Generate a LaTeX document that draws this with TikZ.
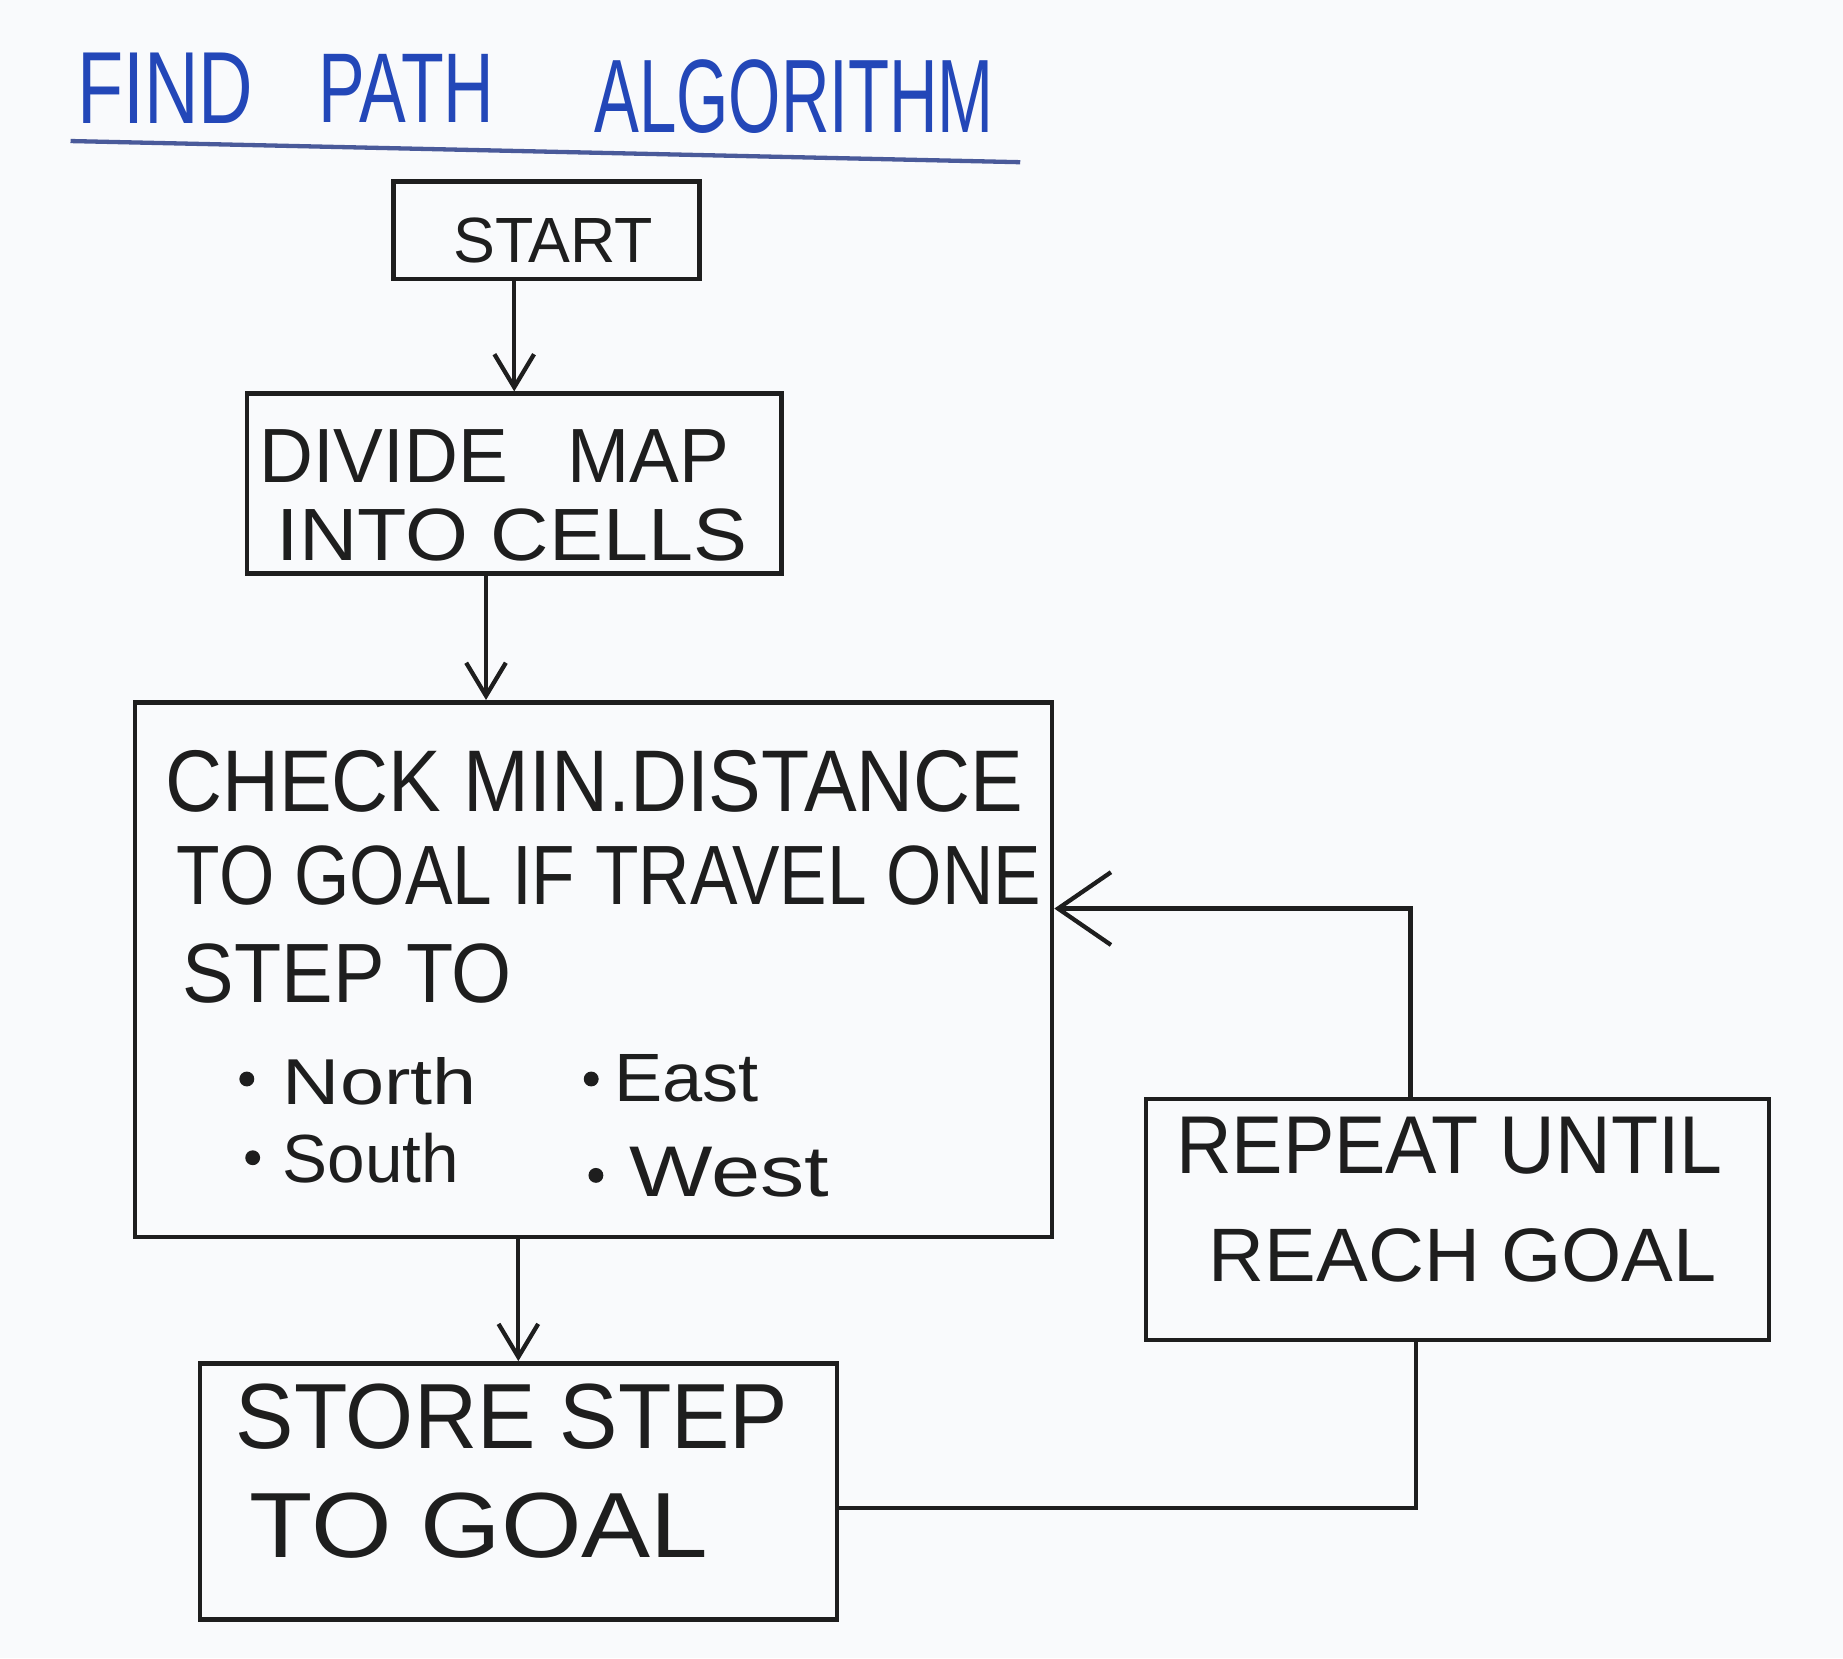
\documentclass[tikz,border=0pt]{standalone}
\usepackage{fontspec}
\setmainfont{Liberation Sans}
\usetikzlibrary{arrows.meta,calc}
\newlength\pxu \setlength\pxu{0.0125cm}
\newcommand\fitbox[3]{\resizebox{#1\pxu}{#2\pxu}{#3}}
\definecolor{ink}{HTML}{1E1E1E}
\definecolor{pen}{HTML}{2347B8}
\definecolor{rule}{HTML}{4A5A9A}
\definecolor{board}{HTML}{F9FAFC}
\begin{document}
\begin{tikzpicture}[x=0.0125cm,y=-0.0125cm,
  box/.style={draw=ink,line width=1.4pt,rectangle,inner sep=0pt},
  lbl/.style={inner sep=0pt,anchor=west,text=ink},
  dot/.style={circle,fill=ink,inner sep=0pt,minimum size=4.5pt},
  flow/.style={draw=ink,line width=1.3pt},
  arr/.style={flow,-{Straight Barb[length=10pt,width=12pt,line width=1.3pt]}},
  bigarr/.style={flow,-{Straight Barb[length=16pt,width=22pt,line width=1.3pt]}}]
\useasboundingbox[fill=board] (0,0) rectangle (1568,1411);

% title
\node[lbl,text=pen] (title1) at (65,75) {\fitbox{150}{60}{FIND}};
\node[lbl,text=pen] (title2) at (270,75) {\fitbox{150}{58}{PATH}};
\node[lbl,text=pen] (title3) at (505,82) {\fitbox{340}{62}{ALGORITHM}};
\coordinate (ulA) at (60,120);
\coordinate (ulB) at (868,138);
\draw[draw=rule,line width=1.3pt] (ulA) -- (ulB);

% boxes
\node[box,minimum width=260\pxu,minimum height=83\pxu] (start) at (465,196) {};
\node[box,minimum width=455\pxu,minimum height=153\pxu] (divide) at (437.5,411.5) {};
\node[box,minimum width=780\pxu,minimum height=455\pxu] (check) at (505,825) {};
\node[box,minimum width=530\pxu,minimum height=205\pxu] (repeat) at (1240,1037.5) {};
\node[box,minimum width=542\pxu,minimum height=218\pxu] (store) at (441,1269) {};

% texts
\node[lbl] (tstart) at (385,205) {\fitbox{170}{38}{START}};
\node[lbl] (tdiv1) at (220,388) {\fitbox{400}{45}{DIVIDE\hspace{0.8em}MAP}};
\node[lbl] (tdiv2) at (235,455) {\fitbox{400}{44}{INTO CELLS}};
\node[lbl] (tchk1) at (140,665) {\fitbox{730}{52}{CHECK MIN.DISTANCE}};
\node[lbl] (tchk2) at (150,745) {\fitbox{735}{50}{TO GOAL IF TRAVEL ONE}};
\node[lbl] (tchk3) at (155,828) {\fitbox{280}{50}{STEP TO}};
\node[dot] (bnorth) at (210,918) {};
\node[lbl] (tnorth) at (240,920) {\fitbox{165}{40}{North}};
\node[dot] (beast) at (503,918) {};
\node[lbl] (teast) at (522,917) {\fitbox{123}{40}{East}};
\node[dot] (bsouth) at (215,985) {};
\node[lbl] (tsouth) at (240,985) {\fitbox{150}{42}{South}};
\node[dot] (bwest) at (507,1000) {};
\node[lbl] (twest) at (535,997) {\fitbox{170}{42}{West}};
\node[lbl] (trep1) at (1000,975) {\fitbox{465}{48}{REPEAT UNTIL}};
\node[lbl] (trep2) at (1028,1068) {\fitbox{432}{45}{REACH GOAL}};
\node[lbl] (tsto1) at (200,1205) {\fitbox{470}{55}{STORE STEP}};
\node[lbl] (tsto2) at (212,1298) {\fitbox{390}{55}{TO GOAL}};

% connectors
\draw[arr] (start.south -| divide.north) -- (divide.north);
\draw[arr] ([xshift=-24\pxu]divide.south) -- ([xshift=-24\pxu]divide.south |- check.north);
\draw[arr] (check.south -| store.north) -- (store.north);
\coordinate (loopA) at (1205,1283);
\draw[flow] (store.east |- loopA) -- (loopA) -- (loopA |- repeat.south);
\coordinate (loopB) at (1200,773);
\draw[bigarr] (loopB |- repeat.north) -- (loopB) -- (loopB -| check.east);
\end{tikzpicture}
\end{document}
